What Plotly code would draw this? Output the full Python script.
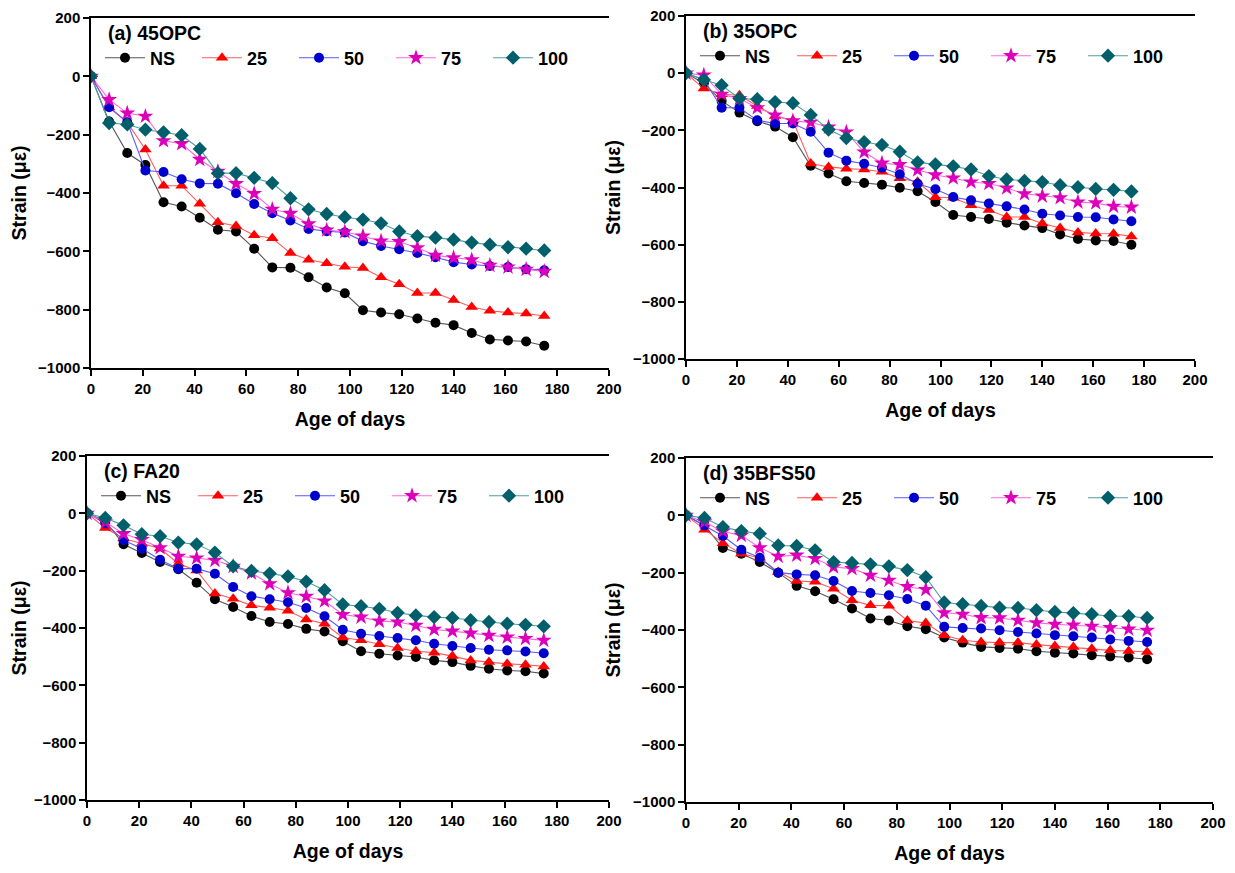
import plotly.graph_objects as go

# ---------------- data ----------------
days = [0, 7, 14, 21, 28, 35, 42, 49, 56, 63, 70, 77, 84, 91, 98, 105, 112,
        119, 126, 133, 140, 147, 154, 161, 168, 175]
series_names = ["NS", "25", "50", "75", "100"]
panel_titles = ["(a) 45OPC", "(b) 35OPC", "(c) FA20", "(d) 35BFS50"]
x_ticks = [0, 20, 40, 60, 80, 100, 120, 140, 160, 180, 200]
y_ticks = [200, 0, -200, -400, -600, -800, -1000]

# (a) 45OPC
opc45_ns = [0, -155, -263, -304, -432, -446, -485, -526, -532, -591, -655, -656, -689,
            -724, -744, -802, -810, -816, -830, -845, -853, -880, -902, -906, -909, -924]
opc45_25 = [0, -107, -158, -251, -375, -375, -437, -500, -513, -545, -555, -606, -629,
            -641, -653, -657, -689, -713, -743, -743, -767, -791, -804, -810, -813, -822]
opc45_50 = [0, -106, -157, -323, -328, -353, -367, -368, -401, -438, -469, -494, -523,
            -531, -535, -565, -582, -593, -606, -620, -637, -645, -650, -654, -661, -665]
opc45_75 = [0, -80, -126, -137, -221, -231, -285, -326, -368, -402, -456, -470, -506,
            -527, -533, -548, -565, -567, -588, -614, -622, -629, -648, -654, -662, -669]
opc45_100 = [0, -160, -165, -183, -192, -202, -249, -332, -332, -348, -366, -418, -456,
             -472, -483, -491, -504, -532, -548, -553, -560, -570, -577, -586, -591, -597]

# (b) 35OPC
opc35_ns = [0, -35, -97, -138, -168, -187, -224, -324, -351, -378, -384, -390, -401,
            -413, -451, -496, -503, -510, -523, -533, -542, -564, -580, -585, -587, -600]
opc35_25 = [0, -54, -74, -77, -115, -150, -166, -316, -328, -334, -337, -345, -368,
            -380, -434, -436, -462, -479, -503, -503, -526, -542, -557, -561, -562, -571]
opc35_50 = [0, -23, -121, -121, -165, -176, -176, -205, -278, -306, -317, -331, -354,
            -387, -406, -433, -445, -456, -466, -477, -492, -498, -503, -504, -512, -518]
opc35_75 = [0, -7, -74, -89, -121, -147, -167, -172, -189, -206, -276, -315, -320,
            -339, -356, -367, -381, -386, -402, -422, -430, -436, -451, -454, -466, -469]
opc35_100 = [0, -23, -42, -89, -91, -101, -105, -146, -197, -227, -241, -251, -275,
             -312, -319, -326, -337, -360, -372, -377, -381, -392, -399, -405, -408, -414]

# (c) FA20
fa20_ns = [0, -27, -108, -138, -170, -195, -242, -300, -327, -358, -379, -386, -403,
           -412, -446, -481, -490, -496, -501, -513, -519, -532, -542, -548, -551, -559]
fa20_25 = [0, -51, -88, -106, -123, -176, -199, -280, -298, -321, -329, -340, -370,
           -385, -433, -443, -457, -470, -481, -486, -498, -513, -519, -525, -528, -534]
fa20_50 = [0, -34, -94, -123, -162, -193, -193, -211, -257, -289, -300, -310, -330,
           -359, -406, -420, -428, -435, -443, -455, -463, -470, -476, -478, -482, -488]
fa20_75 = [0, -30, -71, -92, -120, -150, -156, -164, -185, -208, -246, -277, -290,
           -306, -353, -362, -376, -379, -391, -405, -411, -418, -426, -432, -437, -443]
fa20_100 = [0, -16, -42, -73, -80, -102, -108, -137, -185, -201, -210, -220, -238,
            -268, -318, -324, -333, -347, -356, -362, -365, -373, -379, -385, -389, -394]

# (d) 35BFS50
bfs_ns = [0, -35, -114, -134, -163, -200, -246, -265, -293, -325, -360, -367, -387,
          -397, -426, -444, -459, -463, -465, -474, -479, -482, -488, -492, -496, -502]
bfs_25 = [0, -50, -97, -134, -148, -198, -229, -232, -256, -296, -314, -315, -367,
          -376, -418, -436, -442, -444, -444, -451, -456, -459, -465, -471, -473, -477]
bfs_50 = [0, -35, -72, -120, -148, -200, -206, -209, -229, -264, -271, -279, -292,
          -315, -389, -393, -395, -401, -407, -412, -418, -422, -426, -433, -438, -442]
bfs_75 = [0, -23, -56, -70, -113, -143, -139, -151, -180, -186, -209, -227, -249,
          -259, -340, -345, -357, -358, -366, -375, -380, -383, -387, -392, -397, -401]
bfs_100 = [0, -9, -41, -55, -64, -105, -107, -122, -163, -166, -171, -178, -191,
           -216, -304, -310, -316, -322, -323, -331, -337, -341, -345, -351, -352, -358]

panels = [
    [opc45_ns, opc45_25, opc45_50, opc45_75, opc45_100],
    [opc35_ns, opc35_25, opc35_50, opc35_75, opc35_100],
    [fa20_ns, fa20_25, fa20_50, fa20_75, fa20_100],
    [bfs_ns, bfs_25, bfs_50, bfs_75, bfs_100],
]

# ---------------- styles ----------------
W, H = 1235, 873
OFF = 8  # page body margin
marker_colors = ["#000000", "#ff0000", "#0000cc", "#dd00bb", "#005f6b"]
line_colors = ["#555555", "#ff5a5a", "#5a5aff", "#ff66dd", "#4f9d9d"]
symbols = ["circle", "triangle-up", "circle", "star", "diamond"]
sizes = [10, 11, 10, 12, 11]

# plot areas in screen pixels: (left, right, top, bottom)
boxes = [(91, 609, 18, 368), (686, 1195, 16, 359), (87, 609, 456, 800), (686, 1213, 458, 802)]

FONT = "Arial, Liberation Sans, sans-serif"


def px(xp):
    return (xp - OFF) / W


def py(yp):
    return 1 - (yp - OFF) / H


fig = go.Figure()
for p, series in enumerate(panels):
    ax = "" if p == 0 else str(p + 1)
    leg = "legend" if p == 0 else "legend" + str(p + 1)
    for s, vals in enumerate(series):
        fig.add_trace(go.Scatter(
            x=days, y=vals, name=series_names[s], mode="lines+markers",
            xaxis="x" + ax, yaxis="y" + ax, legend=leg,
            line=dict(color=line_colors[s], width=1.1),
            marker=dict(color=marker_colors[s], symbol=symbols[s], size=sizes[s],
                        line=dict(width=0)),
        ))

layout = dict(width=W, height=H, margin=dict(l=0, r=0, t=0, b=0, autoexpand=False),
              paper_bgcolor="white", plot_bgcolor="white", showlegend=True,
              font=dict(family=FONT, color="black"))
annotations = []
for p, (l, r, t, b) in enumerate(boxes):
    ax = "" if p == 0 else str(p + 1)
    layout["xaxis" + ax] = dict(
        domain=[px(l), px(r)], range=[0, 200], tickvals=x_ticks, anchor="y" + ax,
        automargin=False, ticklabeloverflow="allow",
        showline=True, linecolor="black", linewidth=1.5, mirror=True,
        ticks="outside", ticklen=6, tickwidth=1.5, tickcolor="black",
        showgrid=False, zeroline=False,
        tickfont=dict(family=FONT, size=15, color="black", weight="bold"),
        title=dict(text="Age of days", standoff=17,
                   font=dict(family=FONT, size=19.5, color="black", weight="bold")))
    layout["yaxis" + ax] = dict(
        domain=[py(b), py(t)], range=[-1000, 200], tickvals=y_ticks, anchor="x" + ax,
        automargin=False, ticklabeloverflow="allow",
        showline=True, linecolor="black", linewidth=1.5, mirror=False,
        ticks="outside", ticklen=6, tickwidth=1.5, tickcolor="black",
        showgrid=False, zeroline=False,
        tickfont=dict(family=FONT, size=15, color="black", weight="bold"),
        title=dict(text="Strain (\u03bc\u03b5)", standoff=7,
                   font=dict(family=FONT, size=19.5, color="black", weight="bold")))
    leg = "legend" if p == 0 else "legend" + str(p + 1)
    layout[leg] = dict(
        orientation="h", x=px(l + 9), y=py(t + 40), xanchor="left", yanchor="middle",
        bgcolor="rgba(0,0,0,0)", entrywidth=42, entrywidthmode="pixels",
        itemwidth=40, tracegroupgap=0,
        font=dict(family=FONT, size=18, color="black", weight="bold"))
    annotations.append(dict(
        text=panel_titles[p], x=px(l + 15), y=py(t + 15), xref="paper", yref="paper",
        xanchor="left", yanchor="middle", showarrow=False,
        font=dict(family=FONT, size=19.5, color="black", weight="bold")))
layout["annotations"] = annotations
fig.update_layout(**layout)

fig.write_html("out.html")
